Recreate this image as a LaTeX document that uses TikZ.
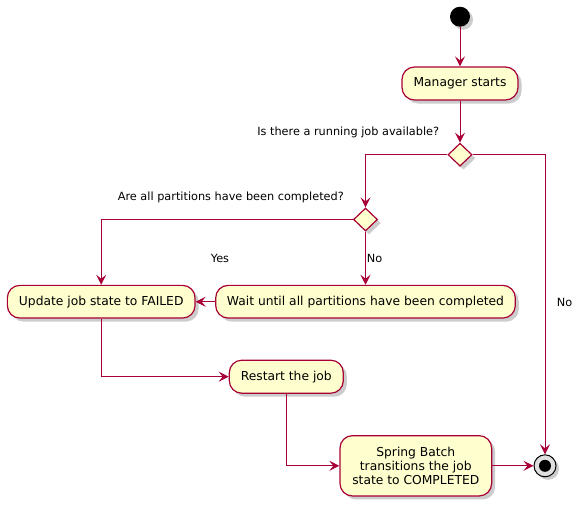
\documentclass[tikz,border=0pt]{standalone}
\usepackage{fontspec}
\setmainfont{DejaVu Sans}
\usetikzlibrary{arrows.meta,shapes.geometric,shadows,positioning}
\definecolor{umlred}{HTML}{A80036}
\definecolor{umlfill}{HTML}{FEFECE}
\tikzset{
  act/.style={draw=umlred, fill=umlfill, line width=1.2pt, rounded corners=12.5pt,
    inner sep=0pt, align=center, font=\fontsize{12.3}{14}\selectfont,
    drop shadow={opacity=0.4, shadow xshift=3.5pt, shadow yshift=-3.5pt}},
  dec/.style={diamond, draw=umlred, fill=umlfill, line width=1.2pt, inner sep=0pt,
    minimum width=24pt, minimum height=23pt,
    drop shadow={opacity=0.4, shadow xshift=3.5pt, shadow yshift=-3.5pt}},
  flow/.style={draw=umlred, line width=1pt, -{Stealth[length=10pt,width=10pt,inset=4pt]}},
  lbl/.style={font=\fontsize{11.3}{13}\selectfont, inner sep=0pt},
}
\begin{document}
\begin{tikzpicture}[x=1pt,y=-1pt]
\useasboundingbox (0,0) rectangle (578,509);
% start
\node[circle, fill=black, minimum size=20pt, inner sep=0pt,
  drop shadow={opacity=0.4, shadow xshift=3pt, shadow yshift=-3pt}] (start) at (460,16.7) {};
% activities
\node[act, minimum width=116pt, minimum height=33pt] (mgr) at (460,83.5) {Manager starts};
\node[dec] (d1) at (460,154.7) {};
\node[dec] (d2) at (365.5,219.5) {};
\node[act, minimum width=187.7pt, minimum height=32.7pt] (upd) at (101.2,301.7) {Update job state to FAILED};
\node[act, minimum width=299.6pt, minimum height=32.7pt] (wait) at (365.5,301.7) {Wait until all partitions have been completed};
\node[act, minimum width=114pt, minimum height=33pt] (restart) at (286.3,376.7) {Restart the job};
\node[act, minimum width=151.7pt, minimum height=60.3pt] (spring) at (415.8,465.8)
  {Spring Batch\\transitions the job\\state to COMPLETED};
% end
\node[circle, draw=black, line width=1pt, fill=gray!25, minimum size=22pt, inner sep=0pt,
  drop shadow={opacity=0.4, shadow xshift=3pt, shadow yshift=-3pt}] (end) at (545,465.8) {};
\node[circle, fill=black, minimum size=12pt, inner sep=0pt] (endin) at (end.center) {};
% labels
\node[lbl, anchor=east] (q1) at (439.3,132.3) {Is there a running job available?};
\node[lbl, anchor=east] (q2) at (344,197.7) {Are all partitions have been completed?};
\node[lbl] (yes) at (220,258) {Yes};
\node[lbl, anchor=west] (no1) at (366.7,258) {No};
\node[lbl, anchor=west] (no2) at (556.7,302) {No};
% connectors
\draw[flow] (start) -- (mgr.north);
\draw[flow] (mgr.south) -- (d1.north);
\draw[flow] (d1.west) -| (d2.north);
\draw[flow] (d1.east) -| (end.north);
\draw[flow] (d2.west) -| (upd.north);
\draw[flow] (d2.south) -- (wait.north);
\draw[flow] (wait.west) -- (upd.east);
\draw[flow] (upd.south) |- (restart.west);
\draw[flow] (restart.south) |- (spring.west);
\draw[flow] (spring.east) -- (end.west);
\end{tikzpicture}
\end{document}
